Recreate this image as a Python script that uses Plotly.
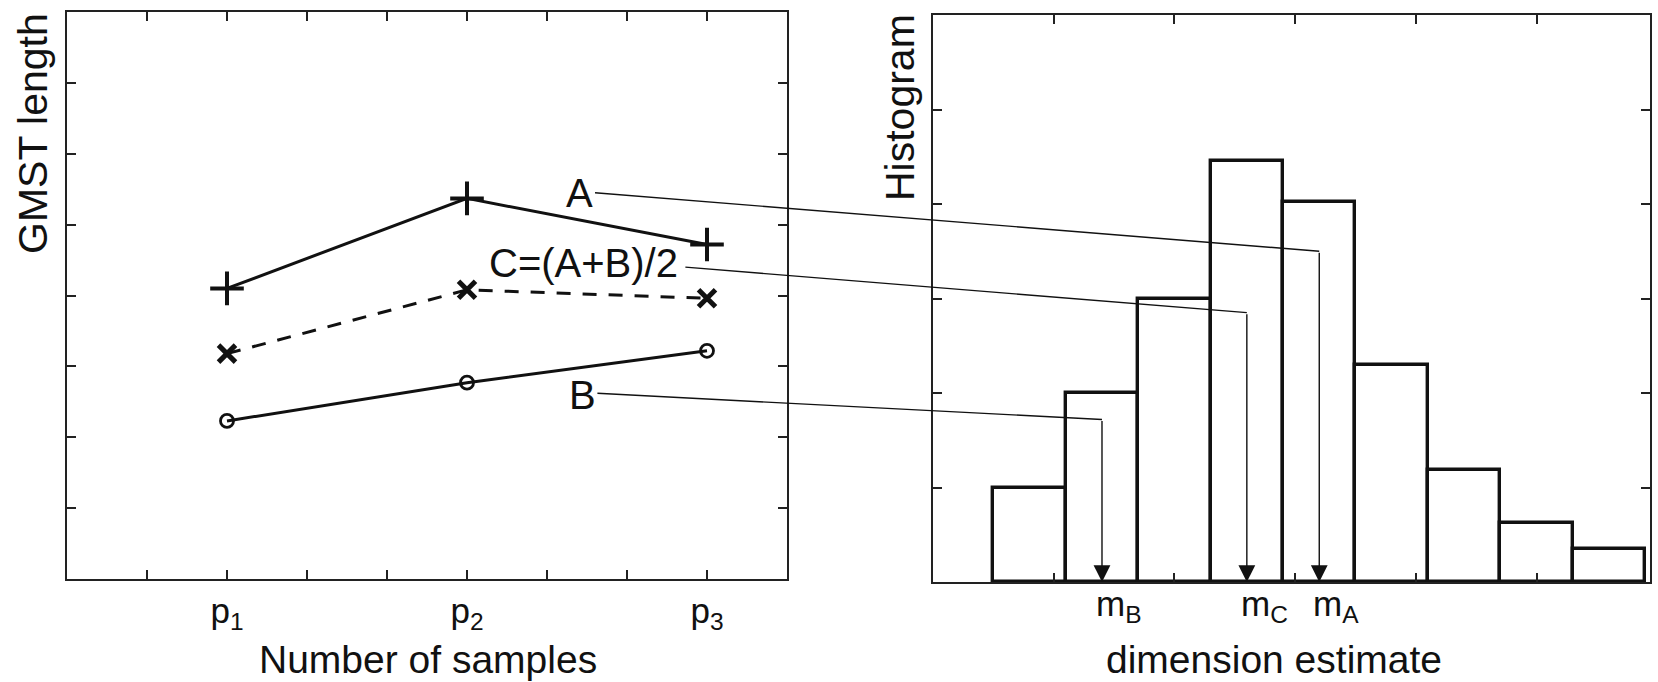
import plotly.graph_objects as go

# ---------------- data ----------------
sample_pos = [2, 5, 8]
sample_ticks = ["p<sub>1</sub>", "p<sub>2</sub>", "p<sub>3</sub>"]
gmst_A = [4.10, 5.37, 4.72]
gmst_C = [3.18, 4.08, 3.96]
gmst_B = [2.23, 2.77, 3.22]

bin_centers = [0.8, 1.4, 2.0, 2.6, 3.2, 3.8, 4.4, 5.0, 5.6]
bin_width = 0.6
hist_counts = [1.0, 2.0, 3.0, 4.45, 4.02, 2.3, 1.18, 0.62, 0.35]

series_labels = ["A", "C=(A+B)/2", "B"]
median_labels = ["m<sub>A</sub>", "m<sub>C</sub>", "m<sub>B</sub>"]
median_x = [3.2, 2.6, 1.4]
median_level = [3.50, 2.85, 1.72]

# ---------------- layout geometry ----------------
W, H = 1658, 682
X1 = [67 / W, 787 / W]
Y1 = [1 - 579 / H, 1 - 12 / H]
X2 = [933 / W, 1650 / W]
Y2 = [1 - 582 / H, 1 - 15 / H]
R1x, R1y = [0, 9], [0, 8]
R2x, R2y = [0, 5.94], [0, 6]

FONT = "Liberation Sans, Arial, Helvetica, sans-serif"
FS = 40
INK = "#111111"


def to_paper(v, rng, dom):
    return dom[0] + (v - rng[0]) / (rng[1] - rng[0]) * (dom[1] - dom[0])


fig = go.Figure()

# left panel lines
fig.add_trace(go.Scatter(x=sample_pos, y=gmst_A, mode="lines+markers",
                         line=dict(color=INK, width=3),
                         marker=dict(symbol="cross-thin", size=24,
                                     line=dict(color=INK, width=4)),
                         xaxis="x", yaxis="y", showlegend=False))
fig.add_trace(go.Scatter(x=sample_pos, y=gmst_C, mode="lines+markers",
                         line=dict(color=INK, width=3, dash="14px,12px"),
                         marker=dict(symbol="x-thin", size=17,
                                     line=dict(color=INK, width=5)),
                         xaxis="x", yaxis="y", showlegend=False))
fig.add_trace(go.Scatter(x=sample_pos, y=gmst_B, mode="lines+markers",
                         line=dict(color=INK, width=3),
                         marker=dict(symbol="circle-open", size=13,
                                     line=dict(color=INK, width=2.8)),
                         xaxis="x", yaxis="y", showlegend=False))

# right panel histogram
fig.add_trace(go.Bar(x=bin_centers, y=hist_counts, width=bin_width,
                     marker=dict(color="white", line=dict(color=INK, width=3.4)),
                     xaxis="x2", yaxis="y2", showlegend=False))

axis_common = dict(showline=True, mirror="ticks", linecolor="#222222",
                   linewidth=2, ticks="inside", ticklen=9, tickwidth=1.5,
                   tickcolor="#222222", showgrid=False, zeroline=False,
                   fixedrange=True)

minor_left = dict(tickvals=[t for t in range(1, 9) if t not in sample_pos],
                  ticks="inside", ticklen=9, tickwidth=1.5,
                  tickcolor="#222222", showgrid=False)

fig.update_layout(
    width=W, height=H,
    margin=dict(l=0, r=0, t=0, b=0),
    paper_bgcolor="white", plot_bgcolor="white",
    font=dict(family=FONT, size=FS, color=INK),
    bargap=0,
    xaxis=dict(domain=X1, range=R1x, tickvals=sample_pos, ticktext=sample_ticks,
               tickfont=dict(size=35), anchor="y", minor=minor_left,
               **axis_common),
    yaxis=dict(domain=Y1, range=R1y, tickvals=list(range(1, 8)),
               showticklabels=False, anchor="x", **axis_common),
    xaxis2=dict(domain=X2, range=R2x, tickvals=[1, 2, 3, 4, 5],
                showticklabels=False, anchor="y2", **axis_common),
    yaxis2=dict(domain=Y2, range=R2y, tickvals=[1, 2, 3, 4, 5],
                showticklabels=False, anchor="x2", **axis_common),
)

# ---------- text labels on the left panel ----------
label_pos = [(6.40, 5.45), (6.46, 4.46), (6.44, 2.59)]
for txt, (lx, ly) in zip(series_labels, label_pos):
    fig.add_annotation(x=lx, y=ly, xref="x", yref="y", text=txt,
                       showarrow=False, font=dict(size=FS),
                       xanchor="center", yanchor="middle")

# ---------- connectors from labels to medians ----------
starts = [(6.60, 5.45), (7.73, 4.40), (6.63, 2.62)]
for (sx, sy), mx, lv in zip(starts, median_x, median_level):
    fig.add_shape(type="line", xref="paper", yref="paper",
                  x0=to_paper(sx, R1x, X1), y0=to_paper(sy, R1y, Y1),
                  x1=to_paper(mx, R2x, X2), y1=to_paper(lv, R2y, Y2),
                  line=dict(color=INK, width=1.4))
    # vertical arrow down to the axis
    fig.add_annotation(x=mx, y=0, xref="x2", yref="y2",
                       ax=mx, ay=lv, axref="x2", ayref="y2",
                       text="", showarrow=True, arrowhead=2, arrowsize=2.4,
                       arrowwidth=1.4, arrowcolor=INK, standoff=0)

for lab, mx in zip(median_labels, median_x):
    fig.add_annotation(x=mx, y=0, xref="x2", yref="y2", text=lab,
                       showarrow=False, xanchor="left", yanchor="top",
                       xshift=-8, yshift=0, font=dict(size=35))

# ---------- axis titles ----------
fig.add_annotation(x=428 / W, y=1 - 659 / H, xref="paper", yref="paper",
                   text="Number of samples", showarrow=False,
                   xanchor="center", yanchor="middle", font=dict(size=39))
fig.add_annotation(x=1274 / W, y=1 - 659 / H, xref="paper", yref="paper",
                   text="dimension estimate", showarrow=False,
                   xanchor="center", yanchor="middle", font=dict(size=39))
fig.add_annotation(x=33 / W, y=1 - 134 / H, xref="paper", yref="paper",
                   text="GMST length", showarrow=False, textangle=-90,
                   xanchor="center", yanchor="middle", font=dict(size=41))
fig.add_annotation(x=900 / W, y=1 - 108 / H, xref="paper", yref="paper",
                   text="Histogram", showarrow=False, textangle=-90,
                   xanchor="center", yanchor="middle", font=dict(size=41))

fig.write_html("out.html")
